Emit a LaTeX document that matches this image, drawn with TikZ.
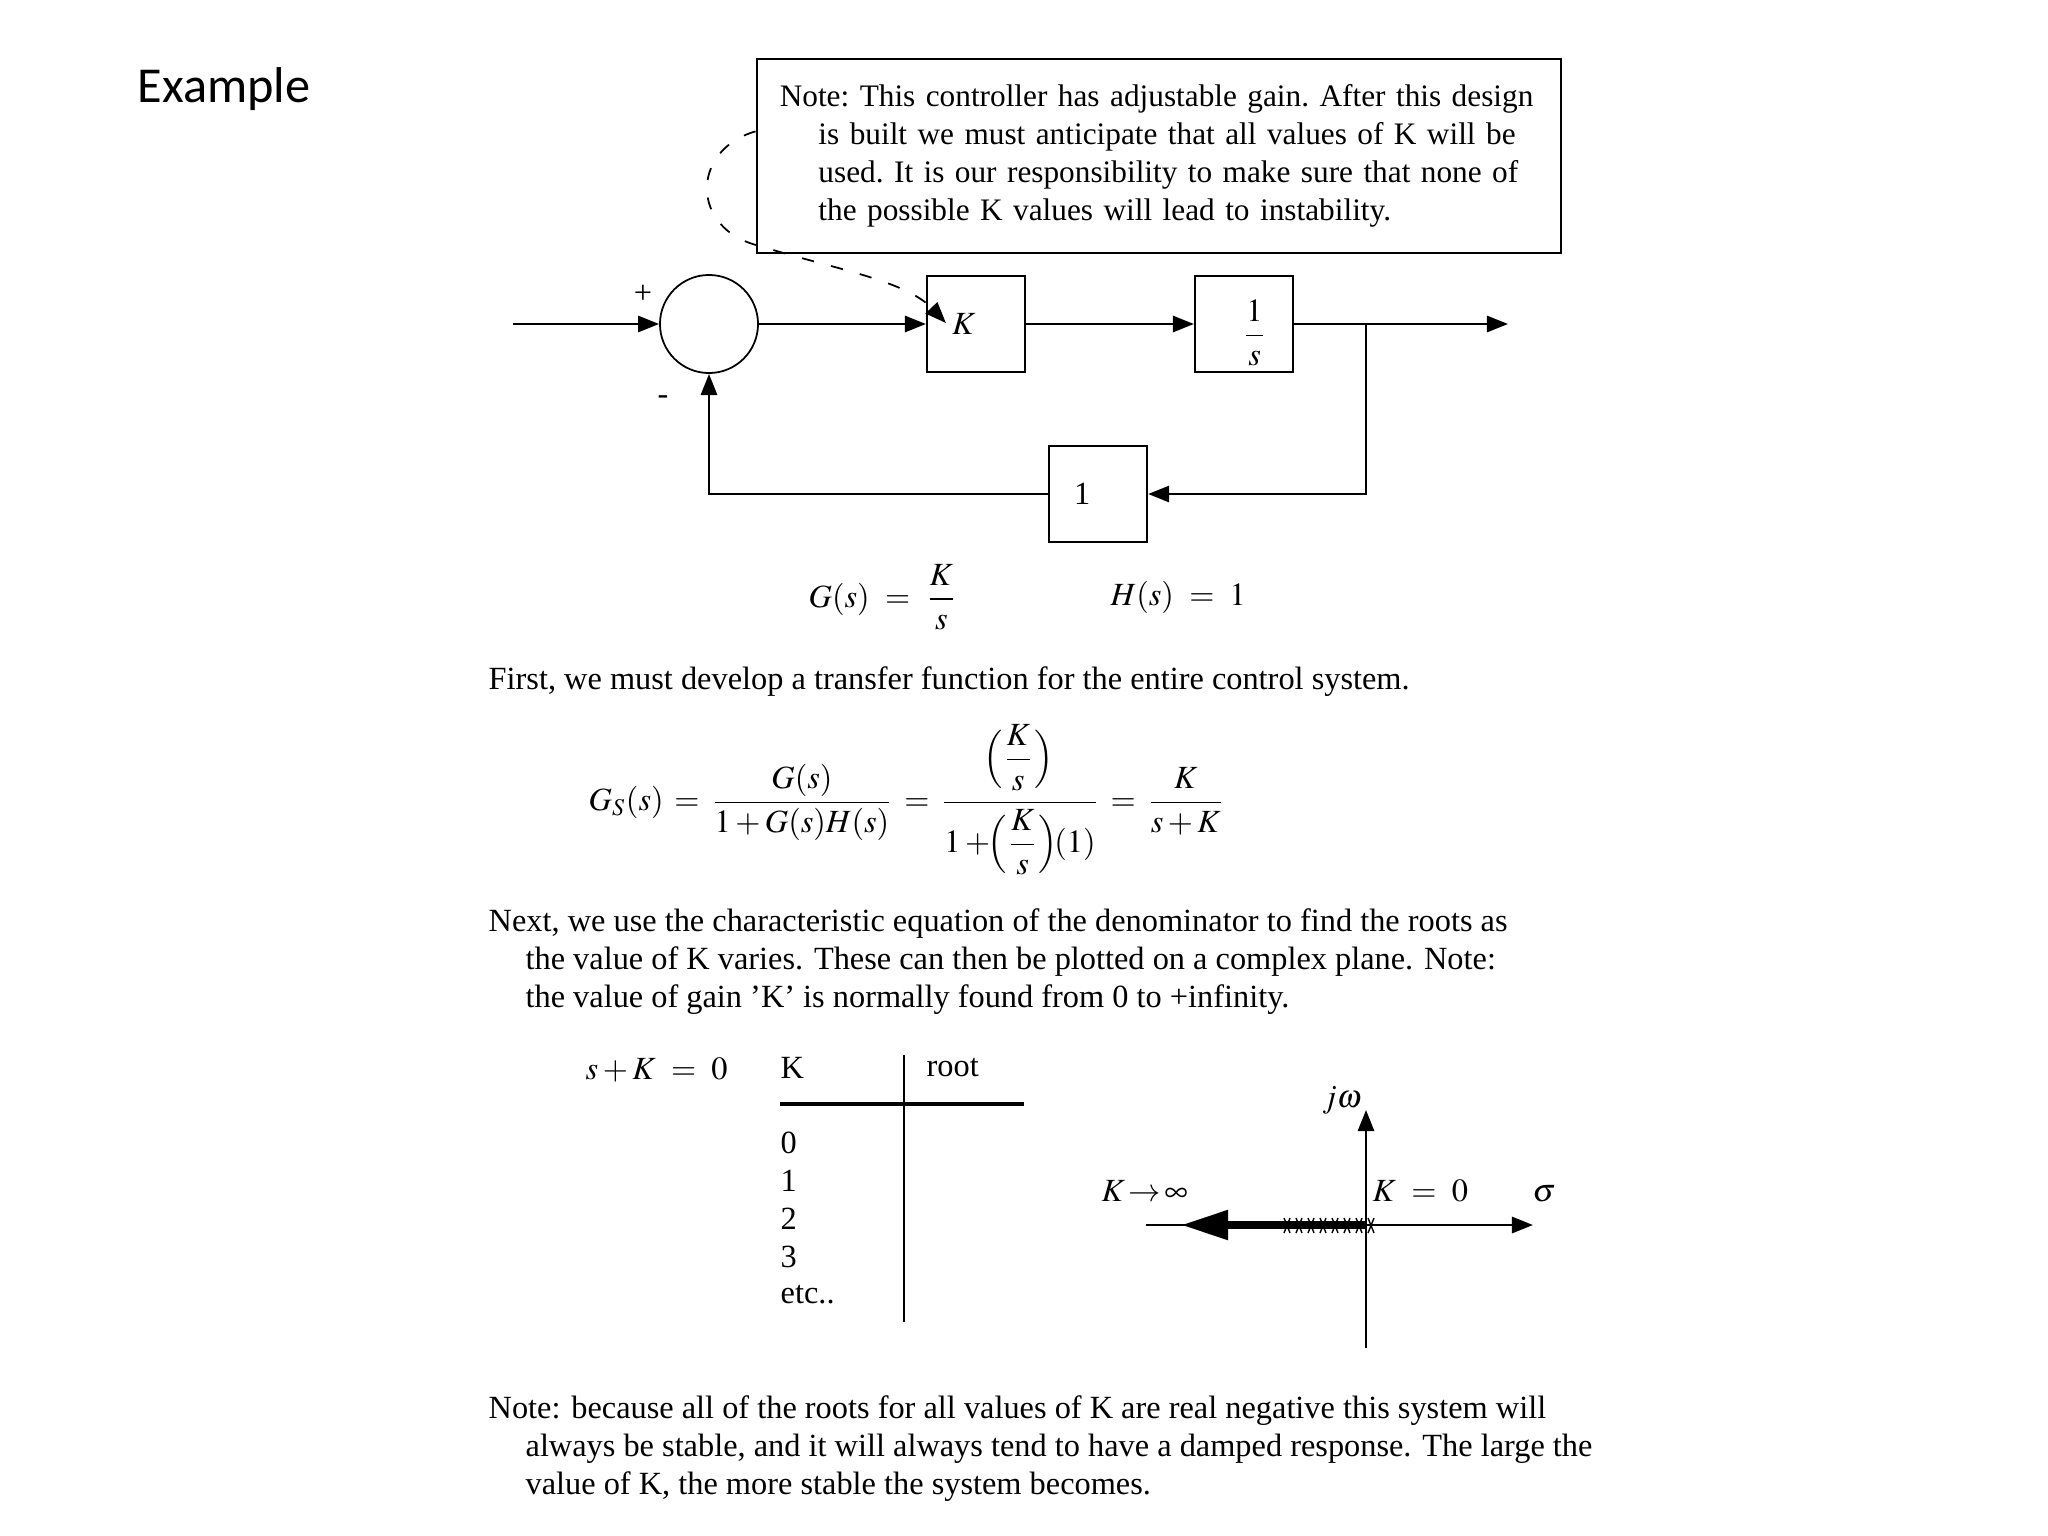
\documentclass[tikz,border=0pt]{standalone}
\usepackage{amsmath}
\usepackage{mathptmx}
\usepackage{fontspec}
\setmainfont{Liberation Serif}
\newfontfamily\slidefont{Carlito}
\usetikzlibrary{arrows.meta, positioning}

\begin{document}
\begin{tikzpicture}[
  x=0.01cm, y=-0.01cm,
  font=\fontsize{9.2}{10.8}\selectfont,
  block/.style={rectangle, draw, line width=0.6pt, minimum width=0.98cm,
                minimum height=0.96cm, inner sep=0pt},
  junction/.style={circle, draw, line width=0.5pt, minimum size=0.98cm, inner sep=0pt},
  arrow/.style={-{Triangle[length=6pt, width=4.6pt]}, line width=0.7pt},
  para/.style={align=left, inner sep=0pt, anchor=west},
  lbl/.style={inner sep=0pt}
]
  \fill[white] (0,0) rectangle (2048,1536);
  \useasboundingbox (0,0) rectangle (2048,1536);

  \node (title) [lbl, anchor=west, font=\slidefont\fontsize{14.3}{17}\selectfont] at (137,89) {Example};

  % loop with the gain block
  \node (note) [rectangle, draw, line width=0.7pt, minimum width=8.04cm, minimum height=1.94cm,
                text width=7.58cm, inner xsep=0.23cm, align=left,
                font=\fontsize{8.9}{10.8}\selectfont\frenchspacing] at (1159,156)
    {Note: This controller has adjustable gain. After this design\\
     \hspace*{11pt}is built we must anticipate that all values of K will be\\
     \hspace*{11pt}used. It is our responsibility to make sure that none of\\
     \hspace*{11pt}the possible K values will lead to instability.};
  \node (sum)   [junction] at (709,324) {};
  \node (gain)  [block] at (976,324) {$K$\kern7pt};
  \node (plant) [block] at (1244,324) {\kern6pt\raisebox{-2.6pt}[\height][\depth]{$\dfrac{1}{s}$}};
  \node (fb)    [block] at (1098,494) {1\kern9pt};
  \node (plus)  [lbl] at (643,294) {+};
  \node (minus) [lbl] at (663,400) {-};
  \coordinate (input)  at (513,324);
  \coordinate (output) at (1508,324);
  \coordinate (br)     at (1366,324);

  \foreach \a/\b in {input/sum, sum/gain, gain/plant, plant/output}
    \draw[arrow] (\a) -- (\b);
  \draw[arrow] (br) |- (fb);
  \draw[arrow] (fb) -| (sum);
  \draw[arrow, dash pattern=on 3.5pt off 5pt, line width=0.5pt]
    ([yshift=7pt]note.west) .. controls (690,150) and (690,230) .. (760,246)
    .. controls (830,268) and (905,280) .. ([shift={(20,-1)}]gain.west);

  \node (geq) [lbl, anchor=west] at (808,597) {$G(s)\ =\ \dfrac{K}{s}$};
  \node (heq) [lbl, anchor=west] at (1110,597) {$H(s)\ =\ 1$};

  % transfer function
  \node (first) [para] at (488,682) {First, we must develop a transfer function for the entire control system.};
  \node (tf) [lbl, anchor=west] at (588,800)
    {\delimiterfactor=800 \delimitershortfall=9pt
     $G_S(s)\,=\,\dfrac{G(s)}{1+G(s)H(s)}\,=\,\dfrac{\left(\dfrac{K}{s}\right)\rule[-8.5pt]{0pt}{0pt}}{\rule{0pt}{13pt}1+\!\!\left(\dfrac{K}{s}\right)\!\!(1)}\,=\,\dfrac{K}{s+K}$};
  \node (next) [para] at (488,962)
    {Next, we use the characteristic equation of the denominator to find the roots as\\
     \hspace*{10.5pt}the value of K varies. These can then be plotted on a complex plane. Note:\\
     \hspace*{10.5pt}the value of gain 'K' is normally found from 0 to +infinity.};

  % table of roots
  \node (sk) [lbl, anchor=west] at (585,1070) {$s+K\ =\ 0$};
  \node (khead) [lbl, anchor=west] at (780,1068) {K};
  \node (roothead) [lbl, anchor=west] at (926,1068) {root};
  \draw[line width=0.6pt] (904,1055) -- (904,1322);
  \draw[line width=1.1pt] (780,1104) -- (1024,1104);
  \foreach \v [count=\i from 0] in {0,1,2,3,etc..}
    \node (kval\i) [lbl, anchor=west] at (780,1143+38*\i) {\v};

  % root locus
  \coordinate (origin) at (1366,1225);
  \coordinate (sigL) at (1146,1225);
  \coordinate (sigR) at (1533,1225);
  \coordinate (jwB) at (1366,1348);
  \coordinate (jwT) at (1366,1110);
  \coordinate (kinf) at (1181,1225);
  \draw[line width=0.6pt] (sigL) -- (origin);
  \draw[arrow] (origin) -- (sigR);
  \draw[arrow] (jwB) -- (jwT);
  \draw[-{Triangle[length=13.4pt, width=8pt]}, line width=2.3pt] (origin) -- (kinf);
  \foreach \r in {1287,1299,...,1371}
    \draw[line width=0.4pt] (\r-3,1218) -- (\r+3,1233) (\r-3,1233) -- (\r+3,1218);
  \node (jw) [lbl] at (1342,1100) {$j\omega$};
  \node (kinflbl) [lbl, anchor=west] at (1101,1191) {$K\!\rightarrow\!\infty$};
  \node (kzero) [lbl, anchor=west] at (1372,1191) {$K\ =\ 0$};
  \node (sigma) [lbl] at (1544,1194) {$\sigma$};

  \node (concl) [para] at (488,1449)
    {Note: because all of the roots for all values of K are real negative this system will\\
     \hspace*{10.5pt}always be stable, and it will always tend to have a damped response. The large the\\
     \hspace*{10.5pt}value of K, the more stable the system becomes.};
\end{tikzpicture}
\end{document}
